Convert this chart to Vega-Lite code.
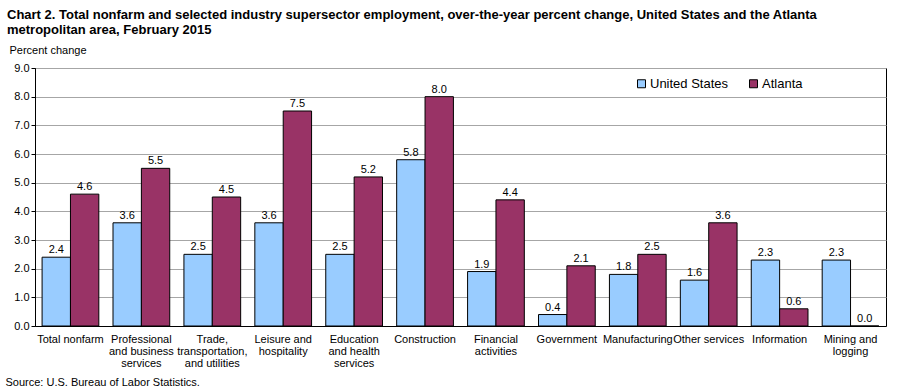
{
  "$schema": "https://vega.github.io/schema/vega-lite/v6.json",
  "width": 851,
  "height": 258,
  "autosize": {"type": "none"},
  "padding": {"left": 35, "top": 68, "right": 15, "bottom": 66},
  "background": "white",
  "title": {
    "text": ["Chart 2. Total nonfarm and selected industry  supersector  employment, over-the-year percent change, United States and the Atlanta", "metropolitan area, February 2015"],
    "anchor": "start",
    "frame": "group",
    "font": "Liberation Sans",
    "fontSize": 13,
    "fontWeight": "bold",
    "color": "black",
    "lineHeight": 15,
    "dx": -28,
    "offset": 0,
    "dy": -7
  },
  "config": {
    "view": {"stroke": "black", "strokeWidth": 1},
    "font": "Liberation Sans",
    "axis": {"labelFont": "Liberation Sans", "titleFont": "Liberation Sans", "labelColor": "black", "titleColor": "black"}
  },
  "data": {
    "values": [
      {"industry": "Total nonfarm", "area": "United States", "value": 2.4},
      {"industry": "Total nonfarm", "area": "Atlanta", "value": 4.6},
      {"industry": "Professional|and business|services", "area": "United States", "value": 3.6},
      {"industry": "Professional|and business|services", "area": "Atlanta", "value": 5.5},
      {"industry": "Trade,|transportation,|and utilities", "area": "United States", "value": 2.5},
      {"industry": "Trade,|transportation,|and utilities", "area": "Atlanta", "value": 4.5},
      {"industry": "Leisure and|hospitality", "area": "United States", "value": 3.6},
      {"industry": "Leisure and|hospitality", "area": "Atlanta", "value": 7.5},
      {"industry": "Education|and health|services", "area": "United States", "value": 2.5},
      {"industry": "Education|and health|services", "area": "Atlanta", "value": 5.2},
      {"industry": "Construction", "area": "United States", "value": 5.8},
      {"industry": "Construction", "area": "Atlanta", "value": 8.0},
      {"industry": "Financial|activities", "area": "United States", "value": 1.9},
      {"industry": "Financial|activities", "area": "Atlanta", "value": 4.4},
      {"industry": "Government", "area": "United States", "value": 0.4},
      {"industry": "Government", "area": "Atlanta", "value": 2.1},
      {"industry": "Manufacturing", "area": "United States", "value": 1.8},
      {"industry": "Manufacturing", "area": "Atlanta", "value": 2.5},
      {"industry": "Other services", "area": "United States", "value": 1.6},
      {"industry": "Other services", "area": "Atlanta", "value": 3.6},
      {"industry": "Information", "area": "United States", "value": 2.3},
      {"industry": "Information", "area": "Atlanta", "value": 0.6},
      {"industry": "Mining and|logging", "area": "United States", "value": 2.3},
      {"industry": "Mining and|logging", "area": "Atlanta", "value": 0.0}
    ]
  },
  "encoding": {
    "x": {
      "field": "industry",
      "type": "nominal",
      "sort": null,
      "scale": {"paddingInner": 0.2, "paddingOuter": 0.1},
      "axis": {
        "title": "Source: U.S. Bureau of Labor Statistics.",
        "titleFontSize": 11,
        "titleFontWeight": "normal",
        "titleAnchor": "start",
        "titleAlign": "left",
        "titleBaseline": "top",
        "titleX": -30,
        "titleY": 50,
        "labelAngle": 0,
        "labelFontSize": 11,
        "labelLineHeight": 12,
        "labelPadding": 7,
        "labelExpr": "split(datum.label, '|')",
        "ticks": false,
        "domainColor": "black",
        "labelBaseline": "top"
      }
    },
    "xOffset": {"field": "area", "type": "nominal", "sort": ["United States", "Atlanta"]},
    "y": {
      "field": "value",
      "type": "quantitative",
      "scale": {"domain": [0, 9], "nice": false},
      "axis": {
        "title": "Percent change",
        "titleAngle": 0,
        "titleAlign": "left",
        "titleBaseline": "alphabetic",
        "titleX": -26,
        "titleY": -15,
        "titleFontSize": 11,
        "titleFontWeight": "normal",
        "values": [0, 1, 2, 3, 4, 5, 6, 7, 8, 9],
        "format": ".1f",
        "labelFontSize": 11,
        "tickSize": 4,
        "tickColor": "black",
        "domainColor": "black",
        "gridColor": "#A6A6A6",
        "labelPadding": 2
      }
    }
  },
  "layer": [
    {
      "mark": {"type": "bar", "stroke": "black", "strokeWidth": 1},
      "encoding": {
        "color": {
          "field": "area",
          "type": "nominal",
          "sort": ["United States", "Atlanta"],
          "scale": {"domain": ["United States", "Atlanta"], "range": ["#99CCFF", "#993366"]},
          "legend": {
            "title": null,
            "orient": "none",
            "legendX": 600,
            "legendY": 9,
            "direction": "horizontal",
            "symbolType": "square",
            "symbolSize": 64,
            "symbolStrokeColor": "black",
            "symbolStrokeWidth": 1,
            "labelFontSize": 13,
            "labelFont": "Liberation Sans",
            "labelColor": "black",
            "labelOffset": 2,
            "columnPadding": 18
          }
        }
      }
    },
    {
      "mark": {"type": "text", "dy": -7, "fontSize": 11, "color": "black", "font": "Liberation Sans"},
      "encoding": {
        "text": {"field": "value", "type": "quantitative", "format": ".1f"}
      }
    }
  ]
}
